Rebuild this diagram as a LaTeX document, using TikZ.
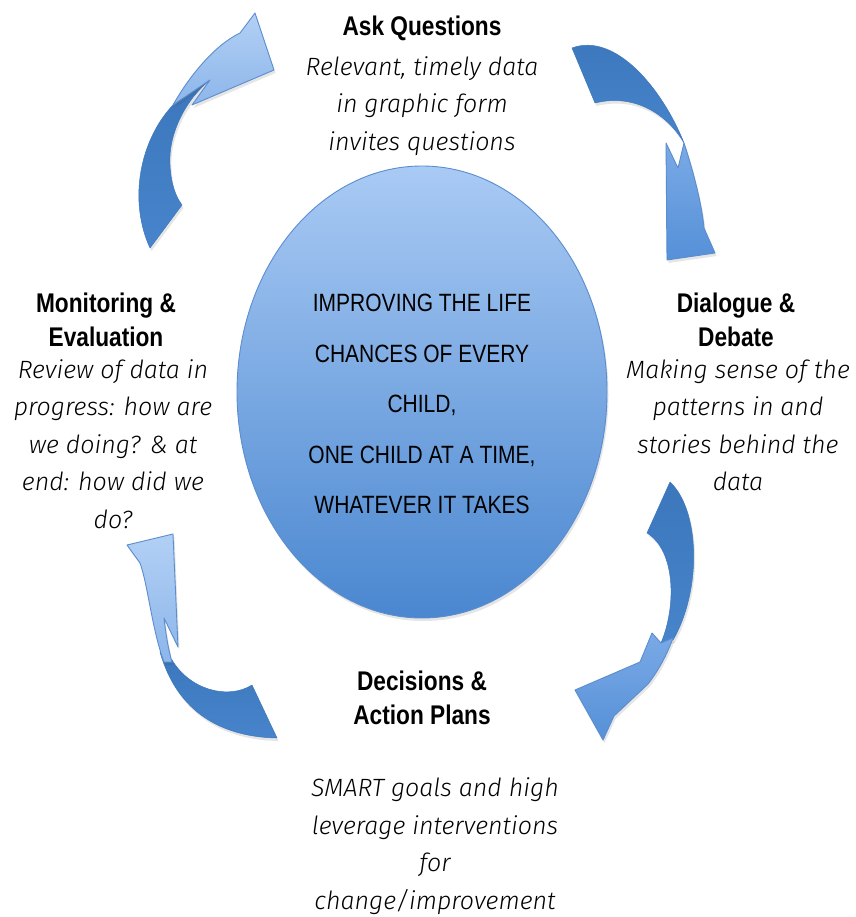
\documentclass[tikz,border=0pt]{standalone}
\usepackage{fontspec}
\setmainfont{Liberation Sans}
\newfontfamily\headfont[FakeStretch=0.84]{Liberation Sans}
\newfontfamily\handfont{Fira Sans Light Italic}
\usetikzlibrary{shapes.geometric}
\definecolor{lightA}{HTML}{B2D0F5}
\definecolor{lightB}{HTML}{8DB6EA}
\definecolor{edgeblue}{HTML}{5B8DCF}
\definecolor{darkA}{HTML}{3C77BC}
\definecolor{darkB}{HTML}{4784CB}
\definecolor{midA}{HTML}{7AAAE6}
\definecolor{midB}{HTML}{5690D8}
\definecolor{ellTop}{HTML}{A9CAF4}
\definecolor{ellBot}{HTML}{4A87D0}
\begin{document}
\begin{tikzpicture}[x=1pt,y=-1pt,
  softshadow/.style={preaction={fill=black!70,opacity=0.14,transform canvas={shift={(1.5pt,-3pt)}}}},
  lightpart/.style={softshadow,top color=lightA,bottom color=lightB,draw=edgeblue,line width=0.9pt,line join=round},
  midpart/.style={softshadow,top color=midA,bottom color=midB,draw=edgeblue,line width=0.9pt,line join=round},
  darkpart/.style={softshadow,top color=darkA,bottom color=darkB,draw=darkA,line width=0.5pt,line join=round},
  heading/.style={font={\headfont\bfseries\fontsize{27}{34}\selectfont},align=center,inner sep=0pt},
  handtext/.style={font={\handfont\fontsize{25}{37.5}\selectfont},align=center,inner sep=0pt},
  coretext/.style={font={\headfont\fontsize{25}{50.5}\selectfont},align=center,inner sep=0pt,text=black}]
\useasboundingbox (0,0) rectangle (855,917);
\fill[white] (0,0) rectangle (855,917);

% central ellipse
\node (core) [ellipse, minimum width=370pt, minimum height=452pt, inner sep=0pt, softshadow,
  top color=ellTop, bottom color=ellBot, draw=edgeblue, line width=0.9pt] at (422,392) {};
\node (coretxt) [coretext] at (422,404)
  {IMPROVING THE LIFE\\CHANCES OF EVERY\\CHILD,\\ONE CHILD AT A TIME,\\WHATEVER IT TAKES};

% arrow 1 (top left)
\path[darkpart] (150,248) .. controls (128,200) and (140,140) .. (173,105) -- (210,80)
  .. controls (185,100) and (168,135) .. (170,165) .. controls (171,185) and (176,197) .. (182,205) -- cycle;
\path[lightpart] (173,105) .. controls (190,75) and (215,45) .. (240,33) -- (255,13) -- (274,70)
  -- (192,105) -- (210,80) -- cycle;

% arrow 2 (top right)
\path[darkpart] (572,48) .. controls (615,32) and (662,88) .. (684,143)
  .. controls (668,115) and (635,93) .. (595,103) -- cycle;
\path[midpart] (684,143) .. controls (693,170) and (702,205) .. (704,228) -- (715,253) -- (667,260)
  -- (666,143) -- (678,168) -- cycle;

% arrow 3 (bottom right)
\path[darkpart] (670,482) .. controls (700,510) and (702,590) .. (673,640) -- (661,643)
  .. controls (677,605) and (675,550) .. (647,533) -- cycle;
\path[midpart] (673,638) .. controls (665,660) and (655,675) .. (648,684) -- (614,716) -- (603,740)
  -- (575,690) -- (640,662) -- (652,633) -- (661,643) -- cycle;

% arrow 4 (bottom left)
\path[darkpart] (172,660) .. controls (190,690) and (228,700) .. (252,685) -- (277,738)
  .. controls (225,737) and (178,715) .. (160,652) -- cycle;
\path[lightpart] (127,545) -- (173,534) -- (178,647) -- (164,618) .. controls (166,635) and (168,648) .. (172,662)
  -- (164,662) .. controls (152,630) and (148,585) .. (140,563) -- cycle;

% headings
\node (askh) [heading] at (422,28) {Ask Questions};
\node (monh) [heading] at (106,320) {Monitoring \&\\Evaluation};
\node (dialh) [heading] at (736,320) {Dialogue \&\\Debate};
\node (dech) [heading] at (422,698) {Decisions \&\\Action Plans};

% descriptions
\node (askd) [handtext] at (422,106) {Relevant, timely data\\in graphic form\\invites questions};
\node (mond) [handtext] at (113,444) {Review of data in\\progress: how are\\we doing? \& at\\end: how did we\\do?};
\node (diald) [handtext] at (738,425) {Making sense of the\\patterns in and\\stories behind the\\data};
\node (decd) [handtext] at (435,846) {SMART goals and high\\leverage interventions\\for\\change/improvement};
\end{tikzpicture}
\end{document}
